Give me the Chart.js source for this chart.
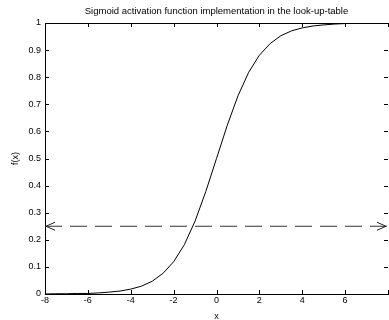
<!DOCTYPE html>
<html><head><meta charset="utf-8">
<script src="https://cdn.jsdelivr.net/npm/chart.js@4"></script>
<style>html,body{margin:0;padding:0;background:#fff}#c{display:block}</style>
</head><body>
<canvas id="c" width="389" height="320"></canvas>
<script>
const titleText = 'Sigmoid activation function implementation in the look-up-table';
const yTitleText = 'f(x)';
const xValues = [-8,-7.5,-7,-6.5,-6,-5.5,-5,-4.5,-4,-3.5,-3,-2.5,-2,-1.5,-1,-0.5,0,0.5,1,1.5,2,2.5,3,3.5,4,4.5,5,5.5,6];
const fValues = [0.000,0.001,0.001,0.002,0.002,0.004,0.007,0.011,0.018,0.029,0.047,0.076,0.119,0.182,0.269,0.378,0.500,0.622,0.731,0.818,0.881,0.924,0.953,0.971,0.982,0.989,0.993,0.996,0.998];
const thresholdX = [-8, 8];
const thresholdY = [0.25, 0.25];
const xTicks = [-8,-6,-4,-2,0,2,4,6,8];
const yTicks = [0,0.1,0.2,0.3,0.4,0.5,0.6,0.7,0.8,0.9,1];

const FONT = 'Liberation Sans, Arial, sans-serif';

const framePlugin = {
  id: 'frame',
  afterDatasetsDraw(chart) {
    const {ctx, chartArea: a, scales: {x, y}} = chart;
    ctx.save();
    ctx.strokeStyle = '#000';
    ctx.lineWidth = 1;
    ctx.beginPath();
    ctx.moveTo(a.left, a.top + 0.5); ctx.lineTo(a.right, a.top + 0.5);
    const L = 4;
    xTicks.forEach(v => {
      const px = Math.round(x.getPixelForValue(v)) + 0.5;
      ctx.moveTo(px, a.bottom); ctx.lineTo(px, a.bottom - L);
      ctx.moveTo(px, a.top); ctx.lineTo(px, a.top + L);
    });
    yTicks.forEach(v => {
      const py = Math.round(y.getPixelForValue(v)) + 0.5;
      ctx.moveTo(a.left, py); ctx.lineTo(a.left + L, py);
      ctx.moveTo(a.right, py); ctx.lineTo(a.right - L, py);
    });
    ctx.stroke();
    // arrowheads on the dashed threshold line
    const yy = y.getPixelForValue(thresholdY[0]);
    const x0 = x.getPixelForValue(thresholdX[0]) + 1;
    const x1 = x.getPixelForValue(thresholdX[1]) - 2;
    ctx.strokeStyle = '#222';
    ctx.beginPath();
    ctx.moveTo(x0 + 9, yy - 4); ctx.lineTo(x0, yy); ctx.lineTo(x0 + 9, yy + 4);
    ctx.moveTo(x1 - 9, yy - 4); ctx.lineTo(x1, yy); ctx.lineTo(x1 - 9, yy + 4);
    ctx.stroke();
    // title centred over the plot area
    ctx.fillStyle = '#000';
    ctx.font = '9.5px ' + FONT;
    ctx.textAlign = 'center';
    ctx.textBaseline = 'middle';
    ctx.fillText(titleText, (a.left + a.right) / 2, 11);
    // y axis title
    ctx.font = '9px ' + FONT;
    ctx.translate(16, (a.top + a.bottom) / 2);
    ctx.rotate(-Math.PI / 2);
    ctx.fillText(yTitleText, 0, 0);
    ctx.restore();
  }
};

new Chart(document.getElementById('c'), {
  type: 'line',
  data: {
    datasets: [
      {
        data: xValues.map((v, i) => ({x: v, y: fValues[i]})),
        borderColor: '#000', borderWidth: 1, pointRadius: 0, tension: 0, fill: false
      },
      {
        data: thresholdX.map((v, i) => ({x: v, y: thresholdY[i]})),
        borderColor: '#333', borderWidth: 1, borderDash: [17, 8], pointRadius: 0, fill: false
      }
    ]
  },
  options: {
    responsive: false,
    animation: false,
    layout: {padding: {top: 23, right: 0, left: 0, bottom: 0}},
    plugins: {legend: {display: false}, tooltip: {enabled: false}, title: {display: false}},
    scales: {
      x: {
        type: 'linear', min: -8, max: 8,
        afterBuildTicks: s => { s.ticks = xTicks.map(v => ({value: v})); },
        afterFit: s => { s.height = 26; },
        border: {display: true, color: '#000', width: 1},
        grid: {display: true, drawOnChartArea: false, drawTicks: false},
        ticks: {color: '#000', font: {family: FONT, size: 9}, padding: 1, maxRotation: 0, autoSkip: false,
          callback: v => v === 8 ? '' : String(v)},
        title: {display: true, text: 'x', color: '#000', font: {family: FONT, size: 9}, padding: {top: 0, bottom: -2}}
      },
      y: {
        type: 'linear', min: 0, max: 1,
        afterBuildTicks: s => { s.ticks = yTicks.map(v => ({value: v})); },
        afterFit: s => { s.width = 45; },
        border: {display: true, color: '#000', width: 1},
        grid: {display: true, drawOnChartArea: false, drawTicks: false},
        ticks: {color: '#000', font: {family: FONT, size: 9}, padding: 4, autoSkip: false,
          callback: v => (v === 0 || v === 1) ? String(v) : v.toFixed(1)},
        title: {display: false}
      }
    }
  },
  plugins: [framePlugin]
});
</script>
</body></html>
